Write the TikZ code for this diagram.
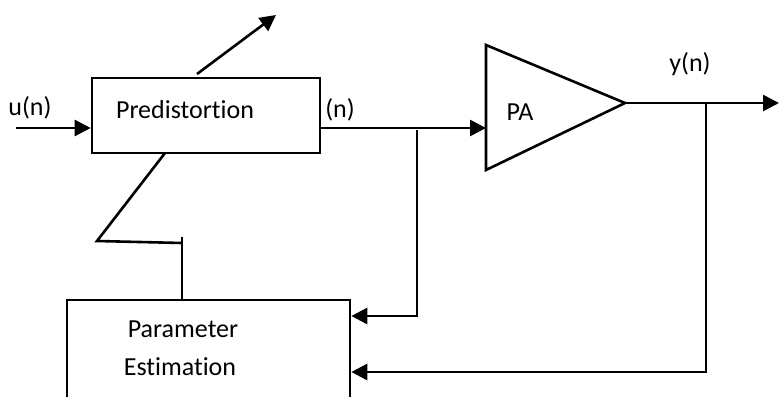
\documentclass[tikz,border=0pt]{standalone}
\usepackage{fontspec}
\setmainfont{Carlito}[Ligatures={NoCommon}]
\usetikzlibrary{arrows.meta}
\begin{document}
\begin{tikzpicture}[x=0.5pt,y=-0.5pt,
  ln/.style={line width=1.3pt},
  arr/.style={ln,-{Triangle[length=8pt,width=8pt]}},
  blk/.style={draw,line width=1.3pt,rectangle,inner sep=0pt},
  lbl/.style={inner sep=0pt,font=\fontsize{13}{16}\selectfont}]
\useasboundingbox (0,0) rectangle (780,396);
\clip (0,0) rectangle (780,396);
% blocks
\node[blk,minimum width=114pt,minimum height=37.5pt] (pre) at (206,115.5) {};
\node[lbl] (pretxt) at (185,110) {Predistortion};
\node[blk,minimum width=141.5pt,minimum height=70pt] (par) at (208.5,370) {};
\node[lbl,align=left] (partxt) at (181,348) {\hspace*{2pt}Parameter\\[3pt]Estimation};
% PA triangle
\coordinate (pat) at (486,45);
\coordinate (pab) at (486,170);
\coordinate (pao) at (625,103);
\draw[ln,line join=miter] (pat) -- (pao) -- (pab) -- cycle;
\node[lbl] (patxt) at (520,112) {PA};
% labels
\node[lbl] (ulbl) at (30,108) {u(n)};
\node[lbl] (nlbl) at (340,110) {(n)};
\node[lbl] (ylbl) at (690,64) {y(n)};
% coordinates
\coordinate (uin) at (16,128);
\coordinate (d1) at (197,74);
\coordinate (d2) at (276,15);
\coordinate (pain) at (486,128);
\coordinate (b1) at (417,130);
\coordinate (b1d) at (417,316);
\coordinate (b2) at (706,103);
\coordinate (b2d) at (706,372);
\coordinate (yout) at (779,103);
\coordinate (f1) at (165,153);
\coordinate (f2) at (97,241);
\coordinate (f3) at (182,243);
\coordinate (f4) at (182,237);
% connectors
\draw[arr] (uin) -- (uin -| pre.west);
\draw[arr] (d1) -- (d2);
\draw[arr] (uin -| pre.east) -- (pain);
\draw[arr] (b1) -- (b1d) -- (b1d -| par.east);
\draw[arr] (pao) -- (yout);
\draw[arr] (b2) -- (b2d) -- (b2d -| par.east);
\draw[ln] (f1) -- (f2) -- (f3);
\draw[ln] (f4) -- (f4 |- par.north);
\end{tikzpicture}
\end{document}
